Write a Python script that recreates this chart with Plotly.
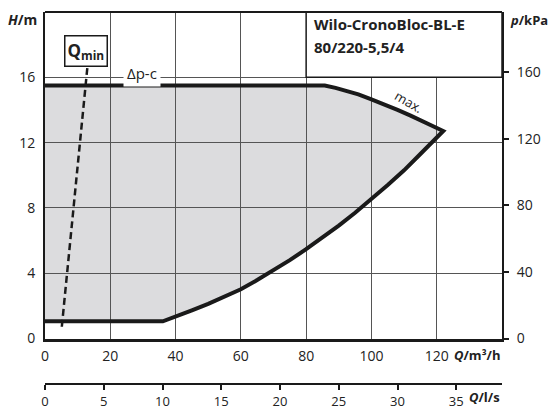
import plotly.graph_objects as go

# ---------------- data ----------------
h_ticks = [0, 4, 8, 12, 16]
p_ticks = [0, 40, 80, 120, 160]
q_ticks = [0, 20, 40, 60, 80, 100, 120]
ls_ticks = [0, 5, 10, 15, 20, 25, 30, 35]

dpc_q = [0, 85.7]
dpc_h = [15.5, 15.5]
max_q = [89, 92, 96, 100, 104, 108, 112, 116, 119, 122]
max_h = [15.35, 15.2, 14.95, 14.65, 14.35, 14.0, 13.65, 13.3, 13.0, 12.71]
low_q = [115, 110, 105, 100, 95, 90, 85, 80, 75, 70, 65, 60, 55, 50, 45, 40, 36.1]
low_h = [11.3, 10.3, 9.4, 8.52, 7.7, 6.92, 6.17, 5.47, 4.8, 4.18, 3.58, 3.02,
         2.55, 2.12, 1.72, 1.38, 1.05]
min_q = [0]
min_h = [1.05]
qmin_q = [5.15, 13.1]
qmin_h = [0.72, 16.85]

title_lines = ["Wilo-CronoBloc-BL-E", "80/220-5,5/4"]

KPA_PER_M = 9.81
Q_MAX = 140
H_MAX = 20
LS_PER_M3H = 1 / 3.6

outline_q = dpc_q + max_q + low_q + min_q
outline_h = dpc_h + max_h + low_h + min_h

FONT = "Open Sans"
TXT = "#222222"
DARK = "#1a1a1a"

fig = go.Figure()

fig.add_trace(go.Scatter(x=outline_q, y=outline_h, mode="lines",
                         line=dict(color=DARK, width=4), hoverinfo="skip",
                         showlegend=False))
fig.add_trace(go.Scatter(x=qmin_q, y=qmin_h, mode="lines",
                         line=dict(color=DARK, width=2.5, dash="7px,4px"),
                         hoverinfo="skip", showlegend=False))
fig.add_trace(go.Scatter(x=[0], y=[0], xaxis="x2", yaxis="y", mode="markers",
                         marker=dict(opacity=0), hoverinfo="skip", showlegend=False))
fig.add_trace(go.Scatter(x=[0], y=[0], xaxis="x", yaxis="y2", mode="markers",
                         marker=dict(opacity=0), hoverinfo="skip", showlegend=False))

path = "M 0,%g " % outline_h[0]
path += " ".join("L %g,%g" % (q, h) for q, h in zip(outline_q, outline_h))
path += " Z"
shapes = [
    dict(type="path", path=path, xref="x", yref="y", layer="below",
         fillcolor="#dcdcde", line=dict(width=0)),
    dict(type="rect", xref="x", yref="y", x0=80, x1=Q_MAX, y0=16, y1=H_MAX,
         fillcolor="white", line=dict(color=DARK, width=1.5), layer="above"),
    dict(type="line", xref="x domain", yref="y domain", x0=0, x1=1, y0=1, y1=1,
         line=dict(color=DARK, width=2), layer="above"),
]

annotations = [
    dict(xref="x", yref="y", x=80, y=H_MAX, xanchor="left", yanchor="middle",
         xshift=6, yshift=-12, showarrow=False, text="<b>%s</b>" % title_lines[0],
         font=dict(family=FONT, size=15, color=TXT)),
    dict(xref="x", yref="y", x=80, y=H_MAX, xanchor="left", yanchor="middle",
         xshift=6, yshift=-35, showarrow=False, text="<b>%s</b>" % title_lines[1],
         font=dict(family=FONT, size=15, color=TXT)),
    dict(xref="x", yref="y", x=12.6, y=17.6, showarrow=False,
         text="<b>Q<sub>min</sub></b>", bgcolor="white", bordercolor=DARK,
         borderwidth=1.5, borderpad=2, font=dict(family=FONT, size=17, color=TXT)),
    dict(xref="x", yref="y", x=29.75, y=16, yshift=4, showarrow=False,
         text="Δp-c", bgcolor="white", borderpad=3,
         font=dict(family=FONT, size=15, color=TXT)),
    dict(xref="x", yref="y", x=111.5, y=14.49, showarrow=False, text="max.",
         textangle=30, font=dict(family=FONT, size=13, color=TXT)),
    dict(xref="paper", yref="paper", x=-0.013, y=0.981, xanchor="right",
         yanchor="middle", showarrow=False, text="<b><i>H</i>/m</b>",
         font=dict(family=FONT, size=14, color=TXT)),
    dict(xref="paper", yref="paper", x=1.013, y=0.978, xanchor="left",
         yanchor="middle", showarrow=False, text="<b><i>p</i>/kPa</b>",
         font=dict(family=FONT, size=13, color=TXT)),
    dict(xref="paper", yref="paper", x=1.0, y=0.078, xanchor="right",
         yanchor="middle", showarrow=False, text="<b><i>Q</i>/m³/h</b>",
         font=dict(family=FONT, size=13, color=TXT)),
    dict(xref="paper", yref="paper", x=1.0, y=-0.0645, xanchor="right",
         yanchor="bottom", showarrow=False, text="<b><i>Q</i>/l/s</b>",
         font=dict(family=FONT, size=13, color=TXT)),
]

tickfont = dict(family=FONT, size=14, color=TXT)

fig.update_layout(
    width=549, height=409,
    margin=dict(l=45, r=47, t=12, b=25, autoexpand=False),
    paper_bgcolor="white", plot_bgcolor="white",
    showlegend=False,
    shapes=shapes, annotations=annotations,
    xaxis=dict(range=[0, Q_MAX], tickvals=q_ticks, showgrid=True,
               gridcolor="#555555", gridwidth=1, zeroline=False,
               showline=True, linecolor=DARK, linewidth=3, ticks="",
               tickfont=tickfont, ticklabelstandoff=3, anchor="y",
               automargin=False, fixedrange=True),
    xaxis2=dict(range=[0, Q_MAX * LS_PER_M3H], tickvals=ls_ticks,
                overlaying="x", anchor="free", position=0, side="bottom",
                showgrid=False, zeroline=False, showline=True, linecolor=DARK,
                linewidth=2, ticks="outside", ticklen=5, tickwidth=2,
                tickcolor=DARK, tickfont=dict(family=FONT, size=13, color=TXT),
                ticklabelstandoff=0, automargin=False),
    yaxis=dict(range=[0, H_MAX], tickvals=h_ticks, domain=[0.1223, 1],
               showgrid=True, gridcolor="#555555", gridwidth=1, zeroline=False,
               showline=True, linecolor=DARK, linewidth=2, ticks="",
               tickfont=tickfont, ticklabelstandoff=5, automargin=False),
    yaxis2=dict(range=[0, H_MAX * KPA_PER_M], tickvals=p_ticks, overlaying="y",
                side="right", anchor="x", showgrid=False, zeroline=False,
                showline=True, linecolor=DARK, linewidth=2, ticks="outside",
                ticklen=5, tickwidth=2, tickcolor=DARK, tickfont=tickfont,
                ticklabelstandoff=5, automargin=False),
)

fig.write_html("out.html")
